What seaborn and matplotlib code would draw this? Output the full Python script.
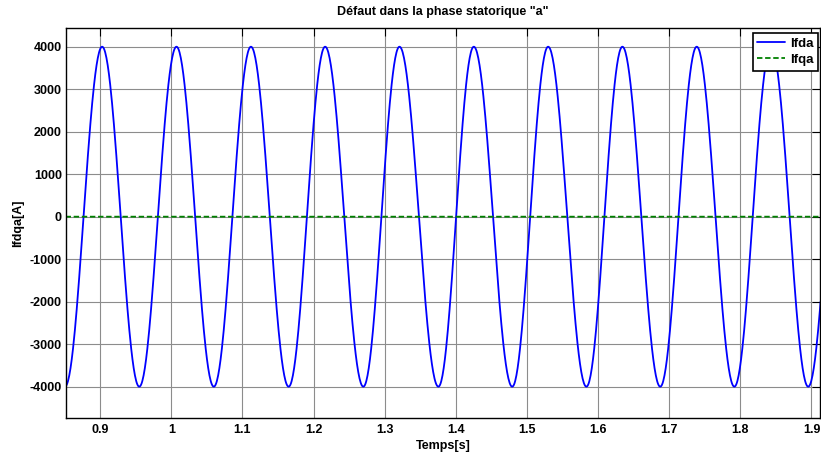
import numpy as np
import pandas as pd
import matplotlib
matplotlib.use('Agg')
import matplotlib.pyplot as plt
import seaborn as sns
from matplotlib import ticker

# extrema of Ifda (time [s], value [A])
ext_t = [0.8505, 0.9028, 0.9550, 1.0073, 1.0598, 1.1120, 1.1650, 1.2163,
         1.2700, 1.3208, 1.3755, 1.4253, 1.4793, 1.5298, 1.5836, 1.6342,
         1.6874, 1.7387, 1.7916, 1.8432, 1.8954, 1.9477]
ext_v = [-4000, 4000, -4000, 4000, -4000, 4000, -4000, 4000, -4000, 4000,
         -4000, 4000, -4000, 4000, -4000, 4000, -4000, 4000, -4000, 4000,
         -4000, 4000]
ifqa_level = 0.0
x_ticks = [0.9, 1.0, 1.1, 1.2, 1.3, 1.4, 1.5, 1.6, 1.7, 1.8, 1.9]
x_labels = ['0.9', '1', '1.1', '1.2', '1.3', '1.4', '1.5', '1.6', '1.7',
            '1.8', '1.9']
y_ticks = [-4000, -3000, -2000, -1000, 0, 1000, 2000, 3000, 4000]

# sinusoidal shape between successive extrema
tt, vv = [], []
for i in range(len(ext_t) - 1):
    s = np.linspace(0, 1, 60, endpoint=False)
    mid = (ext_v[i] + ext_v[i + 1]) / 2
    half = (ext_v[i] - ext_v[i + 1]) / 2
    tt.extend(ext_t[i] + s * (ext_t[i + 1] - ext_t[i]))
    vv.extend(mid + half * np.cos(np.pi * s))
tt.append(ext_t[-1])
vv.append(ext_v[-1])

df = pd.concat([
    pd.DataFrame({'t': tt, 'v': vv, 'serie': 'Ifda'}),
    pd.DataFrame({'t': tt, 'v': ifqa_level, 'serie': 'Ifqa'}),
])

sns.set_style('white')
plt.rcParams['font.family'] = ['Liberation Sans', 'DejaVu Sans']
plt.rcParams['font.weight'] = 'bold'
plt.rcParams['axes.unicode_minus'] = False
for key in ['text.color', 'axes.labelcolor', 'xtick.color', 'ytick.color']:
    plt.rcParams[key] = 'black'

fig = plt.figure(figsize=(8.21, 4.54), dpi=100)
ax = fig.add_axes([66 / 821, 1 - 417.7 / 454, 754 / 821, 389.7 / 454])

sns.lineplot(data=df, x='t', y='v', hue='serie', style='serie',
             palette={'Ifda': '#0000ff', 'Ifqa': '#008000'},
             dashes={'Ifda': '', 'Ifqa': (3, 1.5)}, ax=ax, lw=1.3,
             sort=False, estimator=None, legend=True)

ax.set(xlim=(0.852, 1.912), ylim=(-4730, 4440))
ax.xaxis.set_major_locator(ticker.FixedLocator(x_ticks))
ax.set_xticklabels(x_labels)
ax.yaxis.set_major_locator(ticker.FixedLocator(y_ticks))
ax.grid(True, color='#8c8c8c', lw=0.8, ls='-')
ax.set_axisbelow(True)
ax.tick_params(direction='in', length=5.5, width=0.8, top=True, right=True,
               labelsize=9, colors='black')
ax.tick_params(axis='x', pad=4.5)
ax.tick_params(axis='y', pad=3)
for lab in ax.get_xticklabels() + ax.get_yticklabels():
    lab.set_fontweight('bold')
for sp in ax.spines.values():
    sp.set_color('black')
    sp.set_linewidth(1.0)

ax.set_xlabel('Temps[s]', fontsize=9, fontweight='bold')
ax.set_ylabel('Ifdqa[A]', fontsize=9, fontweight='bold')
ax.xaxis.set_label_coords(0.5, -0.058)
ax.yaxis.set_label_coords(-0.056, 0.5)
ax.text(0.5, 1 + 16 / 389.7, 'Défaut dans la phase statorique "a"',
        transform=ax.transAxes, ha='center', va='center', fontsize=9,
        fontweight='bold')

leg = ax.legend(loc='upper right', bbox_to_anchor=(0.998, 0.987),
                fontsize=9.5, frameon=True, fancybox=False, framealpha=1,
                edgecolor='black', borderpad=0.35, handlelength=2.1,
                handletextpad=0.4, labelspacing=0.3, borderaxespad=0)
leg.get_frame().set_linewidth(1.2)
for txt in leg.get_texts():
    txt.set_fontweight('bold')

fig.savefig('out.png', dpi=100)
